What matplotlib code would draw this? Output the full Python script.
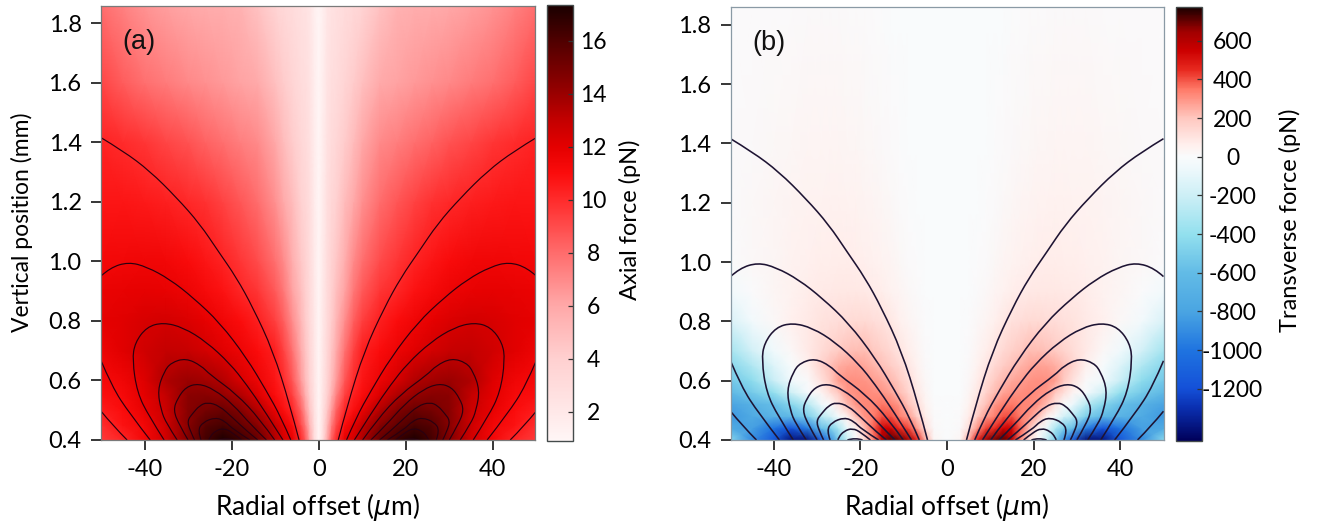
import numpy as np
import matplotlib
matplotlib.use('Agg')
import matplotlib.pyplot as plt
from matplotlib.colors import LinearSegmentedColormap
from matplotlib.path import Path
from matplotlib.patches import PathPatch

plt.rcParams['font.family'] = ['Lato', 'DejaVu Sans']
plt.rcParams['mathtext.fontset'] = 'dejavusans'
plt.rcParams['axes.unicode_minus'] = False

#%% DATA, everything (only r >= 0, the maps are symmetric)

axial_r = [0, 1, 2, 3, 4, 6, 8, 10, 14, 18, 22, 26, 30, 35, 40, 45, 50]
axial_z = [0.4, 0.45, 0.5, 0.55, 0.6, 0.7, 0.8, 0.9, 1.0, 1.2, 1.4, 1.6, 1.86]
axial_force = [
    [1, 3.0, 6.0, 8.5, 10.0, 12.0, 12.5, 13.5, 15.5, 16.6, 17.3, 16.3, 14.7, 12.6, 11.3, 10.2, 9.5],
    [1, 2.8, 5.2, 7.5, 9.0, 11.0, 12.0, 13.0, 14.5, 15.5, 16.2, 15.8, 14.5, 12.7, 11.4, 10.8, 9.9],
    [1, 2.6, 4.5, 6.5, 8.2, 10.2, 10.9, 11.7, 13.4, 14.6, 15.3, 15.0, 14.5, 12.8, 11.8, 11.0, 10.5],
    [1, 2.4, 4.0, 5.6, 7.2, 9.4, 10.4, 11.0, 12.3, 13.5, 14.2, 14.5, 14.4, 13.0, 12.0, 11.2, 10.9],
    [1, 2.3, 3.7, 5.0, 6.4, 8.7, 10.0, 10.7, 11.6, 12.4, 13.4, 13.8, 14.0, 13.5, 12.2, 11.5, 11.2],
    [1, 2.2, 3.4, 4.6, 5.8, 7.8, 9.3, 10.4, 11.0, 11.6, 12.1, 12.5, 12.9, 13.0, 12.6, 12.1, 11.6],
    [1, 2.1, 3.2, 4.2, 5.2, 6.9, 8.4, 9.4, 10.4, 11.0, 11.5, 11.9, 12.3, 12.5, 12.4, 12.1, 11.9],
    [1, 2.0, 3.1, 4.0, 4.8, 6.2, 7.6, 8.6, 9.7, 10.2, 10.8, 11.2, 11.6, 11.8, 11.9, 11.8, 11.7],
    [1, 1.9, 3.0, 3.8, 4.4, 5.7, 7.0, 7.9, 9.0, 9.7, 10.3, 10.7, 11.1, 11.4, 11.5, 11.4, 11.3],
    [1, 1.8, 2.8, 3.4, 3.8, 5.0, 5.9, 6.8, 8.0, 8.7, 9.3, 9.8, 10.1, 10.4, 10.6, 10.7, 10.7],
    [1, 1.7, 2.6, 3.1, 3.4, 4.2, 5.0, 6.0, 7.0, 7.4, 7.9, 8.3, 8.8, 9.2, 9.7, 10.0, 10.3],
    [1, 1.6, 2.4, 2.8, 3.0, 3.6, 4.2, 4.8, 5.9, 6.2, 6.5, 6.8, 7.1, 7.5, 7.9, 8.5, 9.2],
    [1, 1.5, 2.2, 2.5, 2.7, 3.0, 3.3, 3.7, 4.7, 5.5, 5.7, 5.8, 6.0, 6.3, 6.7, 7.3, 8.0],
]

transverse_r = [0, 3, 5, 7, 9, 11, 13, 15, 17, 19, 21, 23, 25, 27, 29, 32, 36, 40, 45, 50]
transverse_z = [0.4, 0.44, 0.48, 0.52, 0.56, 0.6, 0.65, 0.7, 0.8, 0.9, 1.0, 1.2, 1.4, 1.86]
transverse_force = [
    [0, 30, 250, 480, 650, 700, 720, 620, 320, 120, 0, -220, -500, -900, -1150, -1400, -1400, -1150, -900, -450],
    [0, 15, 120, 300, 420, 450, 540, 540, 380, 220, 40, -70, -310, -500, -580, -950, -1180, -1000, -820, -750],
    [0, 8, 70, 180, 280, 340, 400, 400, 340, 300, 220, 60, -20, -170, -260, -480, -620, -670, -750, -850],
    [0, 5, 45, 130, 210, 290, 340, 350, 330, 320, 300, 220, 100, 0, -60, -270, -450, -580, -680, -800],
    [0, 3, 30, 90, 160, 220, 270, 300, 310, 320, 310, 290, 200, 120, 40, -15, -190, -400, -520, -630],
    [0, 3, 20, 70, 130, 190, 230, 260, 280, 300, 310, 310, 280, 190, 110, 15, -50, -210, -420, -530],
    [0, 2, 15, 50, 95, 140, 180, 210, 240, 265, 275, 270, 250, 210, 160, 60, -10, -130, -300, -450],
    [0, 2, 10, 35, 65, 100, 140, 170, 200, 220, 220, 210, 190, 160, 130, 85, 20, -50, -180, -340],
    [0, 1, 5, 20, 35, 60, 90, 110, 125, 135, 135, 130, 125, 115, 105, 85, 60, 20, -40, -150],
    [0, 1, 3, 10, 20, 35, 50, 65, 75, 85, 90, 90, 90, 85, 80, 70, 50, 30, 5, -40],
    [0, 0, 2, 6, 12, 22, 35, 45, 55, 62, 68, 70, 70, 68, 65, 60, 48, 32, 18, 5],
    [0, 0, 1, 3, 6, 12, 18, 28, 36, 42, 48, 50, 52, 52, 50, 48, 40, 30, 18, 10],
    [0, 0, 0, 2, 3, 6, 10, 15, 20, 25, 30, 33, 35, 36, 36, 34, 28, 22, 14, 10],
    [0, 0, 0, 1, 1, 2, 3, 5, 7, 8, 10, 12, 13, 14, 14, 14, 12, 10, 8, 6],
]

# black level lines, left half (x in um, z in mm)
contours = [
    ([-50, -47.2, -44], [0.497, 0.447, 0.4]),
    ([-50, -47.5, -43.5, -38.7], [0.667, 0.58, 0.49, 0.4]),
    ([-50, -44.9, -38.8, -32.6, -27.3, -23.1, -18.9, -15.1, -10.5, -6.65, -4.5],
     [1.416, 1.371, 1.304, 1.214, 1.126, 1.035, 0.946, 0.845, 0.70, 0.52, 0.4]),
    ([-50, -47.9, -43.7, -39.5, -34.2, -28.8, -22.7, -16.6, -12, -8.6, -6.4],
     [0.951, 0.979, 0.998, 0.982, 0.94, 0.878, 0.794, 0.677, 0.565, 0.475, 0.4]),
    ([-35.5, -39, -41.7, -42.8, -42.2, -39.5, -35.7, -31.1, -25.8, -20.4, -16.6, -12.5, -8.2],
     [0.4, 0.48, 0.56, 0.669, 0.727, 0.78, 0.795, 0.778, 0.73, 0.657, 0.587, 0.5, 0.4]),
    ([-32.5, -35, -36.2, -37, -35.5, -33.9, -30.5, -27, -25, -18.9, -13.5, -10.1],
     [0.4, 0.456, 0.5, 0.568, 0.63, 0.66, 0.675, 0.65, 0.62, 0.555, 0.47, 0.4]),
    ([-30, -32, -33.4, -32.4, -30.5, -27.6, -24, -19.7, -15.5, -12],
     [0.4, 0.45, 0.5, 0.54, 0.578, 0.59, 0.57, 0.52, 0.45, 0.4]),
    ([-28.5, -29.5, -30.2, -28.9, -27.4, -25.6, -22.8, -19.7, -16.5, -14],
     [0.4, 0.43, 0.465, 0.49, 0.515, 0.527, 0.515, 0.474, 0.43, 0.4]),
    ([-27, -27.8, -26.6, -23.7, -21.5, -19.7, -15.8], [0.4, 0.432, 0.46, 0.476, 0.463, 0.436, 0.4]),
    ([-25.2, -25, -23.8, -21.8, -19.8, -17.7], [0.4, 0.41, 0.43, 0.44, 0.425, 0.4]),
    ([-23, -21.2, -19.5], [0.4, 0.408, 0.4]),
]

axial_limits = [0.9, 17.35]
axial_stops = [0.9, 2, 4, 6, 8, 10, 11, 12, 13, 14, 16, 17.35]
axial_colors = ['#fff6f6', '#ffe8e8', '#ffd0d0', '#ffa8a8', '#ff6c6c', '#ff2b2b',
                '#fb0c0c', '#e40000', '#c40000', '#9a0000', '#500000', '#1a0000']
axial_ticks = [2, 4, 6, 8, 10, 12, 14, 16]

transverse_limits = [-1470, 775]
transverse_stops = [-1470, -1300, -1200, -1000, -800, -600, -400, -200, -50, 0, 60,
                    200, 350, 450, 550, 650, 775]
transverse_colors = ['#00005a', '#0a2fb0', '#1450d8', '#1f74e0', '#4aa5e2', '#62bbe6',
                     '#93e0ee', '#cdeff6', '#f0f9fc', '#f9fbfc', '#fff0ee', '#ffc8c0',
                     '#ff7a68', '#e82a20', '#cc0000', '#a00000', '#180000']
transverse_ticks = [-1200, -1000, -800, -600, -400, -200, 0, 200, 400, 600]

x_ticks = [-40, -20, 0, 20, 40]
y_ticks = [0.4, 0.6, 0.8, 1.0, 1.2, 1.4, 1.6, 1.8]

W, H = 1319, 524


def box(left, right, top, bottom):
    # pixel box of the reference -> figure fraction
    return [left / W, 1 - bottom / H, (right - left) / W, (bottom - top) / H]


def make_cmap(stops, colors, limits):
    pos = (np.array(stops) - limits[0]) / (limits[1] - limits[0])
    return LinearSegmentedColormap.from_list('m', list(zip(pos, colors)), N=512)


def curve_path(x, y):
    # the read points act as quadratic bezier controls, so the line has no kinks
    pts = np.column_stack((x, y))
    verts = [pts[0]]
    codes = [Path.MOVETO]
    for i in range(1, len(pts) - 1):
        end = pts[i + 1] if i == len(pts) - 2 else (pts[i] + pts[i + 1]) / 2
        verts += [pts[i], end]
        codes += [Path.CURVE3, Path.CURVE3]
    return Path(verts, codes)


def panel(ax, cax, r, z, values, stops, colors, limits, cticks, clabel, letter,
          xlim, frame, line_color, line_width, cpad, label_x):
    r = np.array(r, dtype=float)
    values = np.array(values, dtype=float)
    x = np.concatenate((-r[::-1], r[1:]))
    full = np.concatenate((values[:, ::-1], values[:, 1:]), axis=1)

    mesh = ax.pcolormesh(x, z, full, shading='gouraud', cmap=make_cmap(stops, colors, limits),
                         vmin=limits[0], vmax=limits[1], rasterized=True)

    for cx, cz in contours:
        cx = np.array(cx)
        for side in (cx, -cx):
            ax.add_patch(PathPatch(curve_path(side, cz), fill=False, edgecolor=line_color,
                                   lw=line_width))

    ax.set_xlim(xlim)
    ax.set_ylim(0.4, 1.86)
    ax.set_xticks(x_ticks)
    ax.set_yticks(y_ticks)
    ax.set_yticklabels(['%.1f' % v for v in y_ticks])
    ax.tick_params(length=7, width=1.1, labelsize=17, pad=7, color='black')
    ax.set_xlabel(r'Radial offset ($\mu$m)', fontsize=19, va='center')
    ax.xaxis.set_label_coords(0.5, -0.155)
    for s in ax.spines.values():
        s.set_color(frame)
        s.set_linewidth(0.9)
    ax.text(0.05, 0.917, letter, transform=ax.transAxes, fontsize=19.5,
            family='Liberation Sans', color='#111111', va='center')

    cb = plt.colorbar(mesh, cax=cax)
    cb.set_ticks(cticks)
    cb.set_ticklabels([str(v) for v in cticks])
    cax.tick_params(direction='in', length=3.5, width=0.9, color='#333333', labelsize=16.5, pad=cpad)
    for t in cax.get_yticklabels():
        t.set_ha('center')
    cb.outline.set_edgecolor('#444b4b')
    cb.outline.set_linewidth(1.0)
    cb.set_label(clabel, fontsize=17, va='center')
    cax.yaxis.set_label_coords(label_x, 0.508)
    cb.solids.set_rasterized(True)
    return ax


fig = plt.figure(figsize=(W / 100, H / 100), dpi=100)

ax1 = fig.add_axes(box(101, 535, 5.5, 440))
cax1 = fig.add_axes(box(547, 573, 5, 441))
ax2 = fig.add_axes(box(730.5, 1163.5, 7, 440))
cax2 = fig.add_axes(box(1176, 1202, 7, 441))

panel(ax1, cax1, axial_r, axial_z, axial_force, axial_stops, axial_colors, axial_limits,
      axial_ticks, 'Axial force (pN)', '(a)', (-50, 49.7), '#7a7a7a', '#2a0010', 0.85, 14.5, 3.2)
panel(ax2, cax2, transverse_r, transverse_z, transverse_force, transverse_stops, transverse_colors,
      transverse_limits, transverse_ticks, 'Transverse force (pN)', '(b)', (-50, 50), '#8a9aa5',
      '#1e1433', 1.15, 22, 4.38)

ax1.set_ylabel('Vertical position (mm)', fontsize=16.5, va='center')
ax1.yaxis.set_label_coords(-0.182, 0.5)

fig.savefig('out.png', dpi=100)
